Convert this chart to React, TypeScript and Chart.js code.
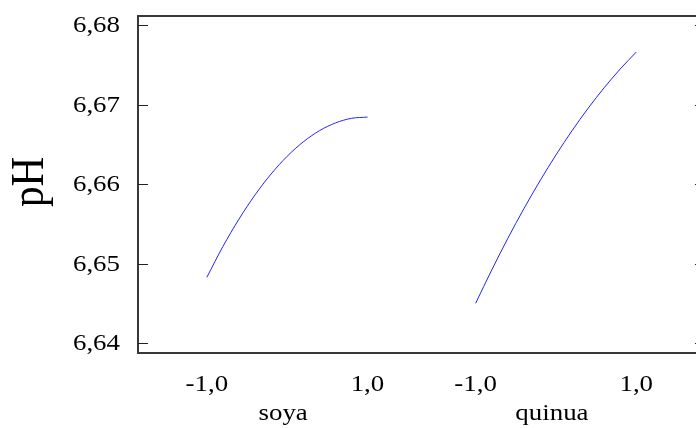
import { useEffect, useRef } from "react";
import { Chart, registerables } from "chart.js";

Chart.register(...registerables);

// Main-effects plot of pH for each flour factor (coded levels -1 to +1)
const FACTORS = ["soya", "quinua"];
const LEVELS = [-1, -0.8, -0.6, -0.4, -0.2, 0, 0.2, 0.4, 0.6, 0.8, 1];
const SOYA_PH = [6.6483, 6.65217, 6.65561, 6.65865, 6.66128, 6.6635, 6.66531, 6.66671, 6.66769, 6.66827, 6.66843];
const QUINUA_PH = [6.64503, 6.64921, 6.65317, 6.6569, 6.6604, 6.66367, 6.66671, 6.66953, 6.67211, 6.67447, 6.6766];
const Y_TICKS = [6.64, 6.65, 6.66, 6.67, 6.68];
const X_TICK_LEVELS = [-1, 1];
const Y_TITLE = "pH";

// Layout: where each factor's panel is centred on the shared x axis
const FACTOR_CENTERS = [0, 3.347];
const X_MIN = -1.87;
const X_MAX = 5.228;
const Y_MIN = 6.63878;
const Y_MAX = 6.68126;
const TEXT_STRETCH = 1.12;
const FONT = '"Liberation Serif", "Times New Roman", serif';
const CANVAS_W = 712;
const CANVAS_H = 428;

const fmt = (v: number, digits: number) => v.toFixed(digits).replace(".", ",");

function drawText(
  ctx: CanvasRenderingContext2D,
  text: string,
  x: number,
  y: number,
  size: number,
  align: CanvasTextAlign,
  rotate = false
) {
  ctx.save();
  ctx.translate(x, y);
  ctx.scale(TEXT_STRETCH, 1);
  if (rotate) ctx.rotate(-Math.PI / 2);
  ctx.font = `${size}px ${FONT}`;
  ctx.textAlign = align;
  ctx.textBaseline = "alphabetic";
  ctx.fillStyle = "#000";
  ctx.fillText(text, 0, 0);
  ctx.restore();
}

const framePlugin = {
  id: "effectsFrame",
  afterDraw(chart: any) {
    const { ctx, chartArea: a, scales } = chart;
    const xs = scales.x;
    const ys = scales.y;
    const left = Math.round(a.left) + 1;
    const right = Math.round(a.right);
    const top = Math.round(a.top) + 1;
    const bottom = Math.round(a.bottom);

    ctx.save();
    ctx.strokeStyle = "#383838";
    ctx.lineWidth = 2;
    ctx.strokeRect(left, top, right - left, bottom - top);

    // inward tick marks on both vertical sides
    ctx.lineWidth = 1;
    ctx.strokeStyle = "#222";
    ctx.beginPath();
    for (const v of Y_TICKS) {
      const py = Math.round(ys.getPixelForValue(v)) + 0.5;
      ctx.moveTo(left, py);
      ctx.lineTo(left + 10, py);
      ctx.moveTo(right - 12, py);
      ctx.lineTo(right, py);
    }
    ctx.stroke();
    ctx.restore();

    // y tick labels
    for (const v of Y_TICKS) {
      const py = ys.getPixelForValue(v);
      drawText(ctx, fmt(v, 2), 120, py + 7, 24, "right");
    }

    // x tick labels and factor names
    FACTORS.forEach((name, i) => {
      const c = FACTOR_CENTERS[i];
      for (const lvl of X_TICK_LEVELS) {
        drawText(ctx, fmt(lvl, 1), xs.getPixelForValue(c + lvl), 391, 24, "center");
      }
      drawText(ctx, name, xs.getPixelForValue(c) - 4, 420, 24, "center");
    });

    // y axis title
    drawText(ctx, Y_TITLE, 43, 182, 41, "center", true);
  },
};

export default function App() {
  const canvasRef = useRef<HTMLCanvasElement | null>(null);

  useEffect(() => {
    const canvas = canvasRef.current;
    if (!canvas) return;
    const series = [SOYA_PH, QUINUA_PH];
    const chart = new Chart(canvas, {
      type: "line",
      data: {
        datasets: FACTORS.map((name, i) => ({
          label: name,
          data: LEVELS.map((lvl, j) => ({ x: FACTOR_CENTERS[i] + lvl, y: series[i][j] })),
          borderColor: "#2323ff",
          borderWidth: 1,
          pointRadius: 0,
          fill: false,
          cubicInterpolationMode: "monotone" as const,
        })),
      },
      options: {
        animation: false,
        responsive: false,
        devicePixelRatio: 1,
        layout: { padding: { left: 137, top: 15, right: 5, bottom: 75 } },
        plugins: { legend: { display: false }, tooltip: { enabled: false } },
        scales: {
          x: { type: "linear", min: X_MIN, max: X_MAX, display: false },
          y: { type: "linear", min: Y_MIN, max: Y_MAX, display: false },
        },
      },
      plugins: [framePlugin],
    });
    return () => chart.destroy();
  }, []);

  return (
    <div
      style={{
        position: "fixed",
        left: 0,
        top: 0,
        width: 696,
        height: 428,
        overflow: "hidden",
        background: "#fff",
      }}
    >
      <canvas ref={canvasRef} width={CANVAS_W} height={CANVAS_H} style={{ display: "block" }} />
    </div>
  );
}
